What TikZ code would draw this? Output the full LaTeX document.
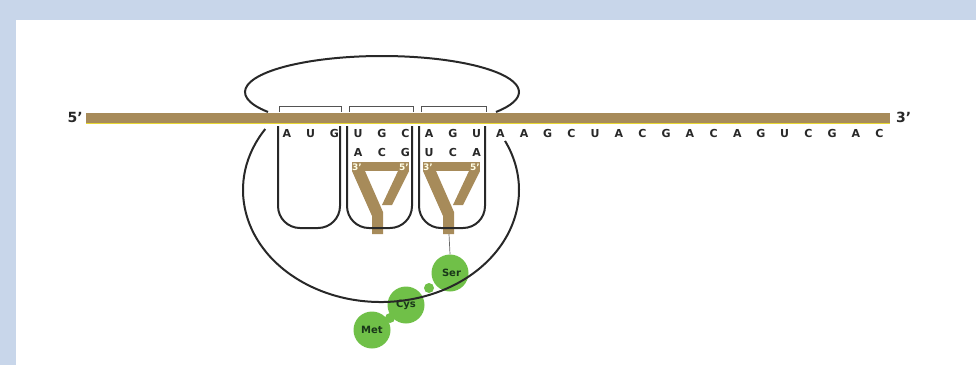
\documentclass[tikz,border=0pt]{standalone}
\usepackage{fontspec}
\setmainfont{DejaVu Sans}
\definecolor{strand}{RGB}{167,139,90}
\definecolor{framebg}{RGB}{200,214,234}
\definecolor{aagreen}{RGB}{112,192,72}
\definecolor{ink}{RGB}{40,40,40}
\definecolor{aaink}{RGB}{25,55,25}
\begin{document}
\begin{tikzpicture}[x=1pt,y=-1pt,
  base/.style={font=\bfseries\fontsize{11}{11}\selectfont, text=ink, inner sep=0pt, anchor=base},
  endlabel/.style={font=\bfseries\fontsize{14}{14}\selectfont, text=ink, inner sep=0pt},
  primelabel/.style={font=\bfseries\fontsize{9}{9}\selectfont, text=white!90!yellow, inner sep=0pt},
  outline/.style={draw=ink, line width=2pt},
  bracket/.style={draw=ink!80, line width=0.8pt},
  aminoacid/.style={circle, fill=aagreen, minimum size=37pt, inner sep=0pt,
    font=\bfseries\fontsize{10}{10}\selectfont, text=aaink},
  linker/.style={circle, fill=aagreen, inner sep=0pt}]
\useasboundingbox (0,0) rectangle (976,365);
% frame
\fill[framebg] (0,0) rectangle (976,20);
\fill[framebg] (0,0) rectangle (16,365);

% small subunit (upper part, closed by the strand)
\draw[outline] (382,92) ++(146.3:137 and 36) arc[start angle=146.3, end angle=393.7, x radius=137, y radius=36];

% mRNA strand
\fill[strand] (86,113) rectangle (890,123);
\draw[yellow!70!strand, line width=0.6pt] (86,123) -- (890,123);
\node[endlabel, anchor=east] (five) at (83,117) {5’};
\node[endlabel, anchor=west] (three) at (896,117) {3’};

% codon brackets above the strand
\foreach \a/\b in {279/341, 349/413, 421/486}
  \draw[bracket] (\a,112) -- (\a,106) -- (\b,106) -- (\b,112);

% tRNA bodies (slot 2 and slot 3)
\foreach \d/\n in {0/2, 71/3} {
  \begin{scope}[xshift=\d pt]
    \fill[strand] (352,162) rectangle (409,171);
    \fill[strand] (352,171) -- (365,171) -- (383,212) -- (383,234) -- (372,234) -- (372,216) -- cycle;
    \fill[strand] (398,171) -- (409,171) -- (392,205) -- (382,205) -- cycle;
    \node[primelabel, anchor=west] (tp\n) at (352,167) {3’};
    \node[primelabel, anchor=east] (fp\n) at (409,167) {5’};
  \end{scope}
}
\coordinate (stem3) at (449,234);

% ribosome sites
\foreach \a/\b in {278/340, 347/412, 419/485}
  \draw[outline, rounded corners=22pt] (\a,126) -- (\a,228) -- (\b,228) -- (\b,126);

% codons and anticodons
\foreach \l [count=\i from 0] in {A,U,G,U,G,C,A,G,U,A,A,G,C,U,A,C,G,A,C,A,G,U,C,G,A,C}
  \node[base] (c\i) at (287+23.7*\i,137) {\l};
\foreach \l [count=\i from 3] in {A,C,G,U,C,A}
  \node[base] (ac\i) at (287+23.7*\i,156) {\l};

% growing peptide
\node[aminoacid] (met) at (372,330) {Met};
\node[aminoacid] (cys) at (406,305) {Cys};
\node[aminoacid] (ser) at (450,273) {\hspace*{3pt}Ser};
\node[linker, minimum size=10pt] (l1) at (429,288) {};
\node[linker, minimum size=10pt] (l2) at (390,318) {};
\draw[ink!70, line width=0.7pt] (stem3) -- (ser.north);

% large subunit
\draw[outline] (381,190) ++(213:138 and 112) arc[start angle=213, end angle=-26, x radius=138, y radius=112];
\end{tikzpicture}
\end{document}
